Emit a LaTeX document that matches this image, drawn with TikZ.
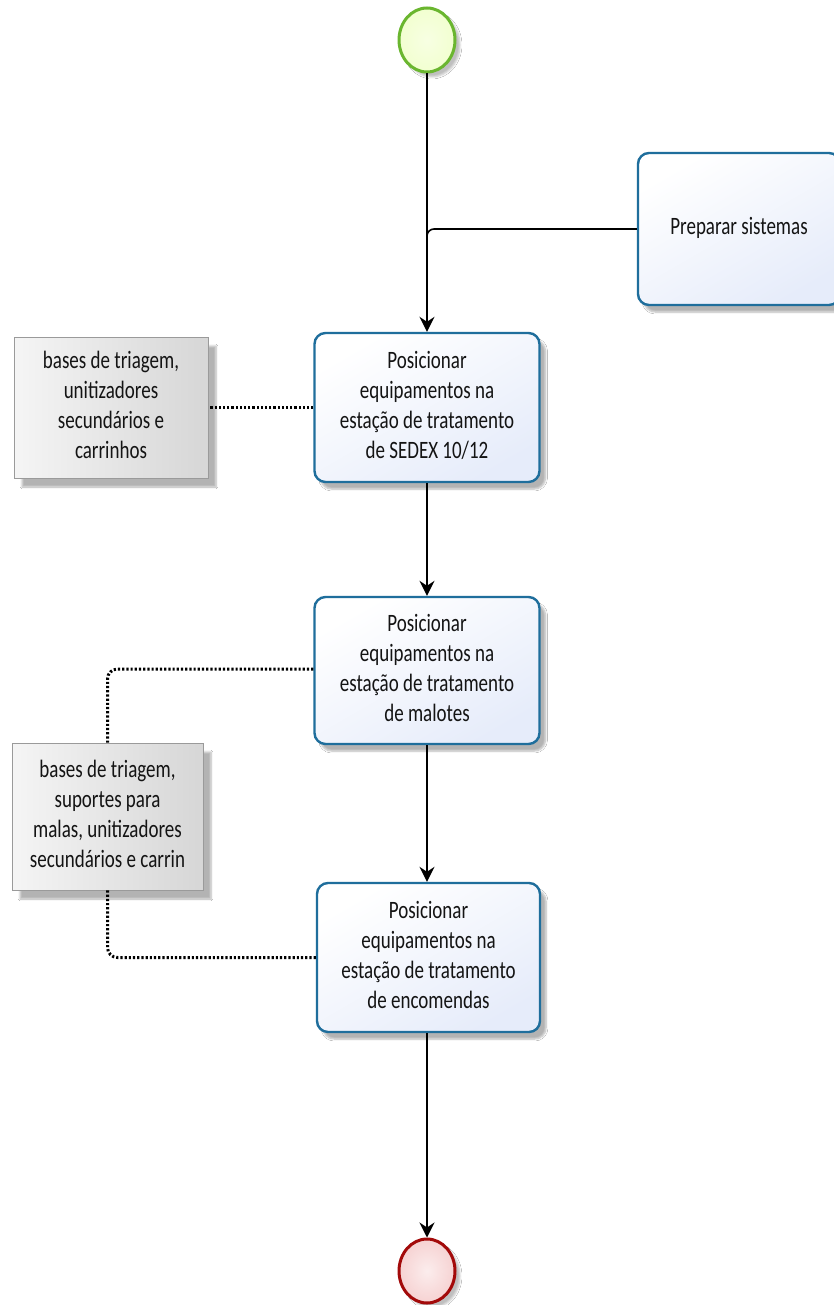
\documentclass[tikz,border=0pt]{standalone}
\usepackage{fontspec}
\usepackage{graphicx}
\setmainfont{Carlito}
\usetikzlibrary{shapes.geometric,arrows.meta,shadows.blur,calc}
\definecolor{taskborder}{HTML}{1F6E9C}
\definecolor{taskfill}{HTML}{E6ECFA}
\definecolor{annborder}{HTML}{9A9A9A}
\definecolor{startborder}{HTML}{6AB62F}
\definecolor{startfill}{HTML}{F2FFD0}
\definecolor{endborder}{HTML}{A30A0A}
\definecolor{endfill}{HTML}{F6D2D2}
\definecolor{txt}{HTML}{141414}
\newcommand\sq[1]{\scalebox{0.76}[1]{\begin{tabular}{@{}c@{}}#1\end{tabular}}}
\tikzset{
  x=1pt, y=-1pt,
  task/.style={draw=taskborder, line width=2.4pt, rounded corners=11pt,
    top color=white, bottom color=taskfill, shading angle=30, text=txt,
    font=\fontsize{25}{30}\selectfont,
    blur shadow={shadow xshift=6pt, shadow yshift=-7pt, shadow blur steps=6, shadow opacity=30}},
  annot/.style={draw=annborder, line width=0.8pt, left color=white!96!black, right color=white!84!black,
    text=txt, font=\fontsize{25}{30}\selectfont,
    blur shadow={shadow xshift=8pt, shadow yshift=-9pt, shadow blur steps=6, shadow opacity=30}},
  event/.style={ellipse, minimum width=56pt, minimum height=64pt, line width=3pt,
    blur shadow={shadow xshift=5pt, shadow yshift=-5pt, shadow blur steps=5, shadow opacity=25}},
  flow/.style={line width=1.6pt, -{Stealth[length=15pt,width=15pt,inset=5pt]}},
  assoc/.style={line width=3pt, dash pattern=on 2.2pt off 2pt, rounded corners=10pt},
}
\begin{document}
\begin{tikzpicture}
\useasboundingbox (0,0) rectangle (834,1305);
\fill[white] (0,0) rectangle (834,1305);

\node[event, draw=startborder, inner color=startfill!60!white, outer color=startfill] (start) at (427,40) {};
\node[event, draw=endborder, inner color=endfill!40!white, outer color=endfill] (end) at (427,1271) {};

\node[task, minimum width=202pt, minimum height=152pt] (prep) at (739,229) {\sq{Preparar sistemas}};

\node[task, minimum width=225pt, minimum height=149pt] (t1) at (427,407.5)
  {\sq{Posicionar\\equipamentos na\\estação de tratamento\\de SEDEX 10/12}};
\node[task, minimum width=225pt, minimum height=147pt] (t2) at (427,670.5)
  {\sq{Posicionar\\equipamentos na\\estação de tratamento\\de malotes}};
\node[task, minimum width=223pt, minimum height=149pt] (t3) at (428.5,957.5)
  {\sq{Posicionar\\equipamentos na\\estação de tratamento\\de encomendas}};

\node[annot, minimum width=194pt, minimum height=141pt] (a1) at (111,407.5)
  {\sq{bases de triagem,\\unitizadores\\secundários e\\carrinhos}};
\node[annot, minimum width=191pt, minimum height=147pt] (a2) at (107.5,816.5)
  {\sq{bases de triagem,\\suportes para\\malas, unitizadores\\secundários e carrin}};

\coordinate (j) at (427,244);
\draw[line width=1.6pt, rounded corners=7pt] (prep.west) -| (j);

\draw[flow] (start.south) -- (t1.north);
\draw[flow] (t1.south) -- (t2.north);
\draw[flow] (t2.south) -- (t2.south |- t3.north);
\draw[flow] (t3.south -| t2.south) -- (end.north);

\draw[assoc] (t1.west) -- (a1.east);
\draw[assoc] (t2.west |- 0,669) -| (a2.north);
\draw[assoc] (a2.south) |- (t3.west);
\end{tikzpicture}
\end{document}
